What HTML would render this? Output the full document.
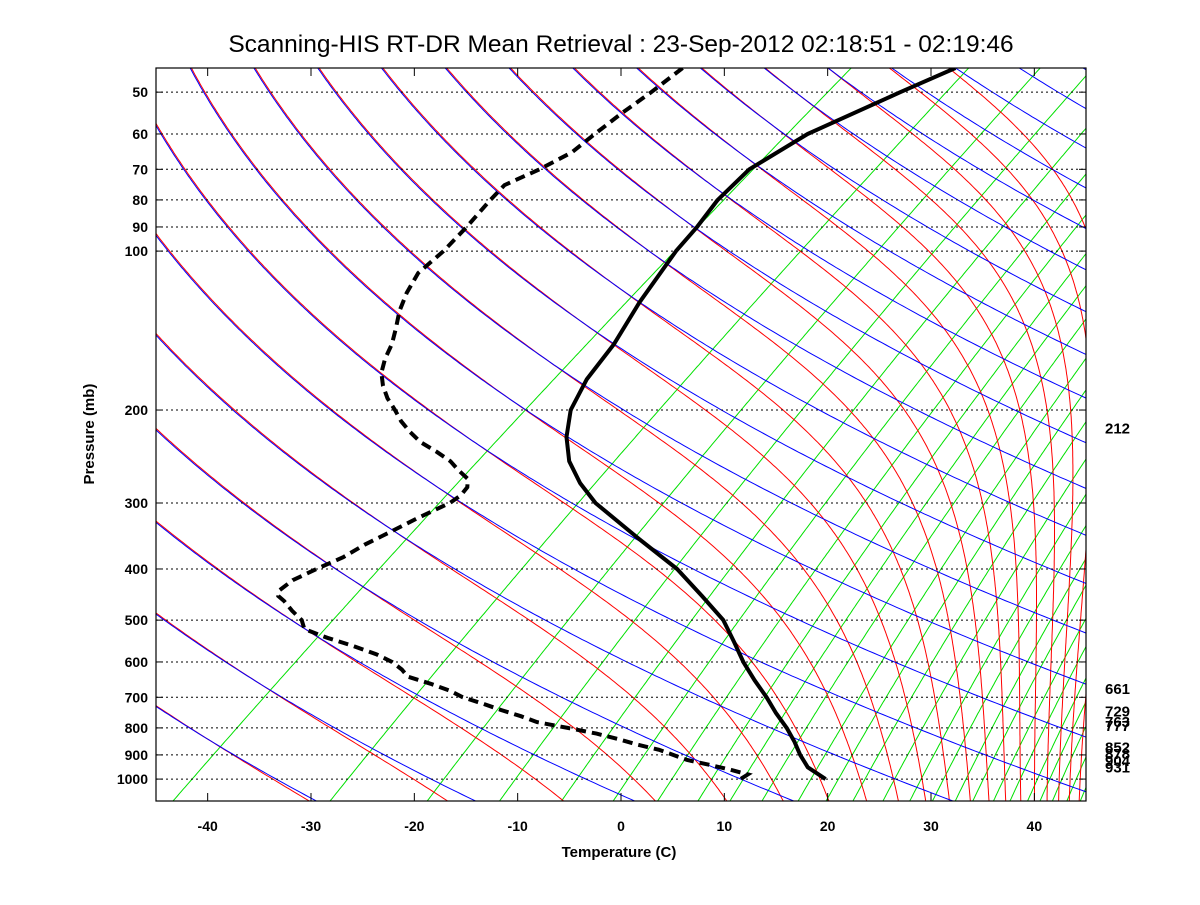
<!DOCTYPE html>
<html><head><meta charset="utf-8"><style>
html,body{margin:0;padding:0;background:#fff;}
svg text{font-family:"Liberation Sans",Arial,sans-serif;}
</style></head><body>
<svg id="chart" width="1200" height="900" viewBox="0 0 1200 900" xmlns="http://www.w3.org/2000/svg">
<rect width="1200" height="900" fill="#fff"/>
<defs><clipPath id="plotclip"><rect x="156" y="68" width="930" height="733"/></clipPath></defs>
<text x="621" y="52" text-anchor="middle" font-size="24.5">Scanning-HIS RT-DR Mean Retrieval : 23-Sep-2012 02:18:51 - 02:19:46</text>
<g id="bg" clip-path="url(#plotclip)"></g>
<g id="grid"></g>
<g id="prof" clip-path="url(#plotclip)"></g>
<g id="axes"></g>
<text x="0" y="0" transform="translate(94,434) rotate(-90)" text-anchor="middle" font-size="15" font-weight="bold">Pressure (mb)</text>
<text x="619" y="857" text-anchor="middle" font-size="15" font-weight="bold">Temperature (C)</text>
</svg>
<script>
// ---- data ----
const tempPressure = [45,50,60,70,80,90,100,125,150,175,200,225,250,275,300,350,400,450,500,550,600,650,700,750,800,850,900,950,1000];
const tempValues = [-57.1,-59.4,-63.1,-64.3,-63.5,-62.1,-61.1,-58.2,-55.4,-53.6,-51.3,-48.3,-45.0,-41.2,-37.2,-28.6,-21.0,-15.2,-10.1,-6.3,-2.9,0.5,3.8,6.7,9.6,12.1,14.3,16.6,19.8];
const dewPressure = [45,50,55,60,65,70,75,80,90,100,110,120,130,140,150,160,170,180,190,200,210,220,230,240,250,260,270,280,290,300,320,340,360,380,400,420,440,450,460,480,500,520,540,560,580,600,620,640,660,680,700,720,740,760,780,800,820,840,860,880,900,920,940,960,980,1010];
const dewValues = [-83.5,-83.5,-83.7,-83.7,-83.6,-84.6,-86.0,-85.5,-84.4,-83.6,-83.3,-81.9,-80.3,-78.5,-76.9,-75.7,-74.3,-72.5,-70.5,-68.3,-66.3,-64.1,-61.8,-59.0,-56.5,-54.6,-52.6,-51.6,-51.2,-51.3,-52.5,-53.4,-54.3,-54.8,-55.9,-56.8,-56.8,-56.2,-55.0,-53.0,-50.9,-49.5,-46.2,-42.6,-39.4,-36.9,-35.0,-33.5,-30.4,-27.7,-25.6,-22.8,-20.3,-17.6,-15.3,-11.6,-8.1,-5.3,-2.8,0.0,2.0,4.0,6.8,9.4,11.7,11.5];
const xTicks = [-40,-30,-20,-10,0,10,20,30,40];
const yTicks = [50,60,70,80,90,100,200,300,400,500,600,700,800,900,1000];
const sideLabels = [212,661,729,763,777,852,878,904,931];
const dryTheta = [240,255,270,285,300,315,330,345,360,375,390,405,420,435,450,465,480,495,510,525,540,555];
const moistThetaE = [240,255,270,285,300,315,330,345,360,375,390,405,420,435,450,465,480,495,510,525];
const mixT1100 = [-40.6,-25.4,-16,-9,-3,2,6.3,10.2,13.3,16.4,19.9,22.6,25.2,28.1,30.7,32.9,35.1,36.8,38.8,40.4,42.1,43.3,44.5,45.9,47.2];

// ---- axes functions ----
const NS='http://www.w3.org/2000/svg';
const X0=621, XS=10.3333, SK=1.3, PL=156, PR=1086, PT=68, PB=801;
function yOf(p){return 68+229.3*Math.log(p/45);}
const Y1000=yOf(1000);
function xOf(T,p){return X0+XS*T+SK*(Y1000-yOf(p));}
function mk(tag,attrs,parent){const e=document.createElementNS(NS,tag);for(const k in attrs)e.setAttribute(k,attrs[k]);parent.appendChild(e);return e;}
function es(Tc){return 6.112*Math.exp(17.67*Tc/(Tc+243.5));}
const plevs=[];for(let p=42;p<=1120;p*=1.01)plevs.push(p);
function pathFrom(pts){return pts.map((q,i)=>(i?'L':'M')+q[0].toFixed(1)+' '+q[1].toFixed(1)).join(' ');}
const bg=document.getElementById('bg');
// mixing ratio lines
mixT1100.forEach(t=>{const w=622*es(t)/(1100-es(t));const pts=plevs.map(p=>{const e=w*p/(622+w);const l=Math.log(e/6.112);const td=243.5*l/(17.67-l);return [xOf(td,p),yOf(p)];});
 const el=mk('path',{d:pathFrom(pts),fill:'none',stroke:'#00e000','stroke-width':1},bg);
 
 });
// moist adiabats
function thetaE(T,p){const e=es(T-273.15);if(e>p*0.6)return 1e9;const ws=0.622*e/(p-e);return T*Math.pow(1000/p,0.286)*Math.exp(2.5e6*ws/(1004*T));}
moistThetaE.forEach(te=>{const pts=[];plevs.forEach(p=>{let lo=60,hi=340;for(let i=0;i<50;i++){const m=(lo+hi)/2;if(thetaE(m,p)>te)hi=m;else lo=m;}if(lo>61)pts.push([xOf(lo-273.15,p),yOf(p)]);});
 const el=mk('path',{d:pathFrom(pts),fill:'none',stroke:'#ff0000','stroke-width':1},bg);
 
 });
// dry adiabats (drawn after, slightly offset so paired lines both show)
dryTheta.forEach(th=>{const pts=plevs.map(p=>[xOf(th*Math.pow(p/1000,0.286)-273.15,p)-0.8,yOf(p)+0.8]);
 const el=mk('path',{d:pathFrom(pts),fill:'none',stroke:'#0000ff','stroke-width':1},bg);
 
 });
// grid + axes
const grid=document.getElementById('grid'), axes=document.getElementById('axes');
yTicks.forEach(p=>{const y=yOf(p);
 const g=mk('line',{x1:PL,x2:PR,y1:y,y2:y,stroke:'#000','stroke-width':1,'stroke-dasharray':'2,3'},grid);
 
 
 const t1=mk('line',{x1:PL,x2:PL+7,y1:y,y2:y,stroke:'#000'},axes);
 
 
 const t2=mk('line',{x1:PR-7,x2:PR,y1:y,y2:y,stroke:'#000'},axes);
 
 
 const tx=mk('text',{x:148,y:y+5,'text-anchor':'end','font-size':14,'font-weight':'bold'},axes);tx.textContent=p;
 
 });
xTicks.forEach(T=>{const x=X0+XS*T;
 const a=mk('line',{x1:x,x2:x,y1:PB,y2:PB-8,stroke:'#000'},axes);
 
 
 const b=mk('line',{x1:x,x2:x,y1:PT,y2:PT+8,stroke:'#000'},axes);
 
 
 const tx=mk('text',{x:x,y:831,'text-anchor':'middle','font-size':14,'font-weight':'bold'},axes);tx.textContent=T;
 
 });
const box=mk('rect',{x:PL,y:PT,width:PR-PL,height:PB-PT,fill:'none',stroke:'#000','stroke-width':1.2},axes);


sideLabels.forEach(p=>{const tx=mk('text',{x:1105,y:yOf(p)+10,'font-size':15,'font-weight':'bold'},axes);tx.textContent=p;
 
 });
// profiles
const prof=document.getElementById('prof');
const tp=mk('path',{d:pathFrom(tempPressure.map((p,i)=>[xOf(tempValues[i],p),yOf(p)])),fill:'none',stroke:'#000','stroke-width':4,'stroke-linejoin':'round'},prof);


const dp=mk('path',{d:pathFrom(dewPressure.map((p,i)=>[xOf(dewValues[i],p),yOf(p)])),fill:'none',stroke:'#000','stroke-width':4,'stroke-dasharray':'10,6'},prof);


</script>
</body></html>
